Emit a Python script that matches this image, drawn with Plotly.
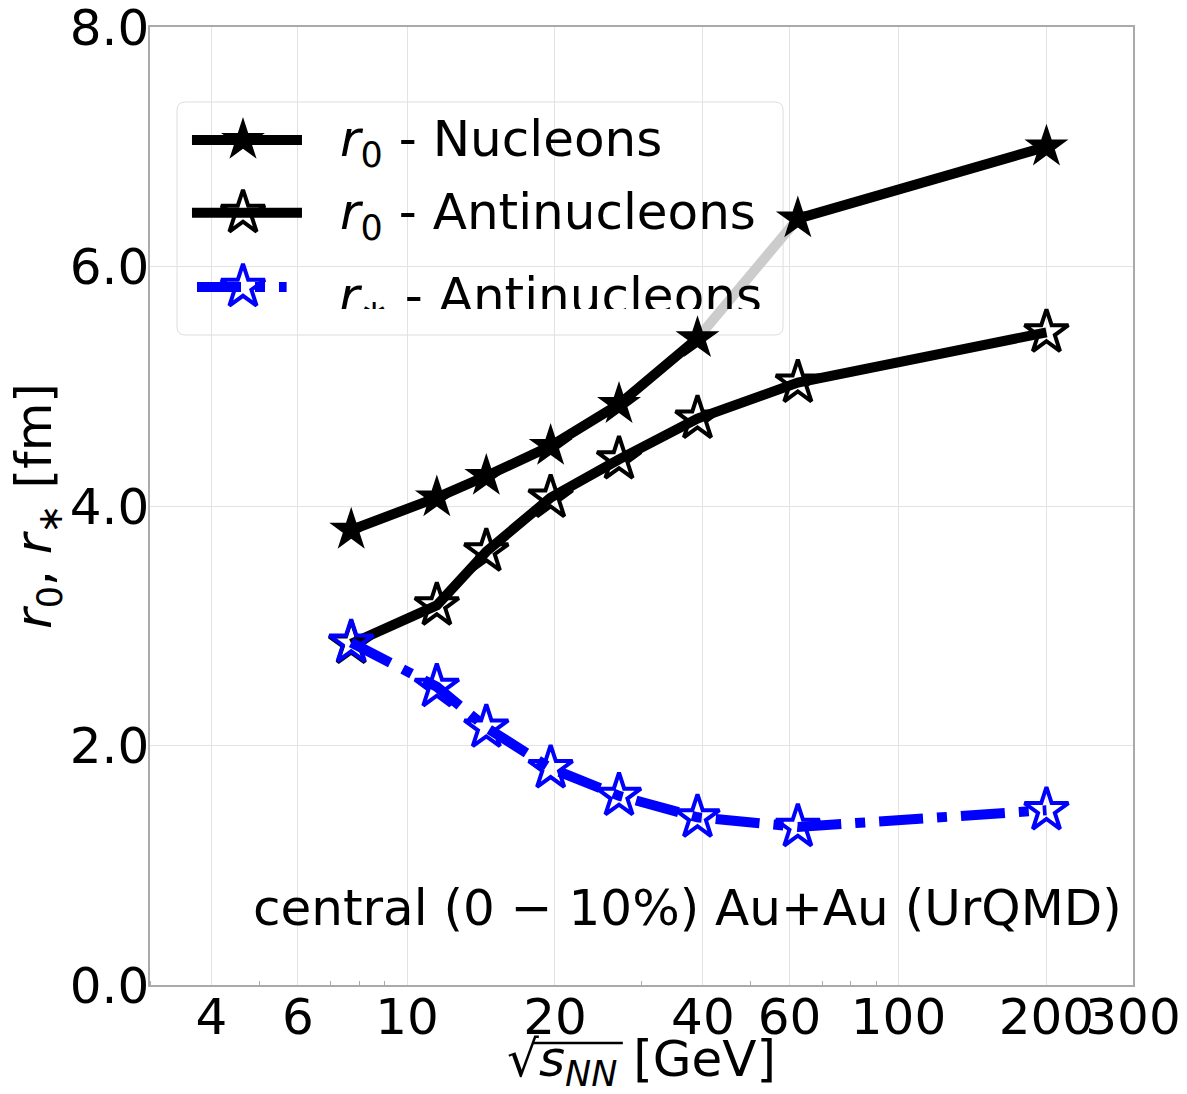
import plotly.graph_objects as go

# ---------------- data ----------------
energy = [7.7, 11.5, 14.5, 19.6, 27, 39, 62.4, 200]
r0_nucleons = [3.80, 4.07, 4.25, 4.50, 4.85, 5.40, 6.40, 7.00]
r0_antinucleons = [2.85, 3.17, 3.62, 4.07, 4.39, 4.73, 5.03, 5.45]
rstar_antinucleons = [2.86, 2.49, 2.15, 1.81, 1.58, 1.40, 1.32, 1.46]

x_tick_vals = [4, 6, 10, 20, 40, 60, 100, 200, 300]
x_tick_text = ["4", "6", "10", "20", "40", "60", "100", "200", "300"]
x_minor_vals = [3, 5, 7, 8, 9, 30, 50, 70, 80, 90]
y_tick_vals = [0, 2, 4, 6, 8]
y_tick_text = ["0.0", "2.0", "4.0", "6.0", "8.0"]

legend_names = ["<i>r</i><sub>0</sub> - Nucleons",
                "<i>r</i><sub>0</sub> - Antinucleons",
                "<i>r</i><sub>∗</sub> - Antinucleons"]
note_text = "central (0 − 10%) Au+Au (UrQMD)"

# ---------------- styles ----------------
FONT = "DejaVu Sans"
FS = 50
BLUE = "#0000ff"
DASHDOT = "44px,14px,10px,14px"
MS = 33
LW = 10
GRID = "#e3e3e3"
SPINE = "#aaaaaa"

fig = go.Figure()

# gray segment between the 39 and 62.4 GeV nucleon points
gap = 5
fig.add_trace(go.Scatter(
    x=energy[gap:gap + 2], y=r0_nucleons[gap:gap + 2], mode="lines",
    line=dict(color="#cccccc", width=LW), showlegend=False, hoverinfo="skip"))

# nucleons (black segment 39->62.4 replaced by the gray one)
fig.add_trace(go.Scatter(
    x=energy[:gap + 1] + [None] + energy[gap + 1:],
    y=r0_nucleons[:gap + 1] + [None] + r0_nucleons[gap + 1:],
    mode="lines+markers", connectgaps=False,
    line=dict(color="black", width=LW),
    marker=dict(symbol="star", size=MS, color="black", line=dict(width=0)),
    showlegend=False))

# antinucleons r0
fig.add_trace(go.Scatter(
    x=energy, y=r0_antinucleons, mode="lines+markers",
    line=dict(color="black", width=LW),
    marker=dict(symbol="star-open", size=MS, color="black", line=dict(width=4, color="black")),
    showlegend=False))

# antinucleons r*
fig.add_trace(go.Scatter(
    x=energy, y=rstar_antinucleons, mode="lines+markers",
    line=dict(color=BLUE, width=LW, dash=DASHDOT),
    marker=dict(symbol="star-open", size=MS, color=BLUE, line=dict(width=4, color=BLUE)),
    showlegend=False))

# ---------------- custom legend (paper-fraction overlay axes) ----------------
leg_rows = [0.882, 0.806, 0.7286]
leg_text_rows = [0.879, 0.8028, 0.7505]
leg_line_x = [[0.0427, 0.1546], [0.0427, 0.1546], [0.0478, 0.139]]
leg_star_x = 0.0946
leg_text_x = 0.1913
leg_styles = [
    dict(line=dict(color="black", width=LW),
         marker=dict(symbol="star", size=MS, color="black", line=dict(width=0))),
    dict(line=dict(color="black", width=LW),
         marker=dict(symbol="star-open", size=MS, color="black", line=dict(width=4, color="black"))),
    dict(line=dict(color=BLUE, width=LW, dash=DASHDOT),
         marker=dict(symbol="star-open", size=MS, color=BLUE, line=dict(width=4, color=BLUE))),
]
for yrow, lx, st in zip(leg_rows, leg_line_x, leg_styles):
    fig.add_trace(go.Scatter(x=lx, y=[yrow, yrow], mode="lines", line=st["line"],
                             xaxis="x2", yaxis="y2", showlegend=False, hoverinfo="skip"))
    fig.add_trace(go.Scatter(x=[leg_star_x], y=[yrow], mode="markers", marker=st["marker"],
                             xaxis="x2", yaxis="y2", showlegend=False, hoverinfo="skip"))

annotations = []
for i, (yrow, name) in enumerate(zip(leg_text_rows, legend_names)):
    if i < 2:
        annotations.append(dict(
            x=leg_text_x, y=yrow, xref="paper", yref="paper", xanchor="left", yanchor="middle",
            text=name, showarrow=False, font=dict(family=FONT, size=FS, color="black")))
    else:
        # last entry: fixed-height box so the bottom of the text is clipped
        annotations.append(dict(
            x=leg_text_x, y=yrow, xref="paper", yref="paper", xanchor="left", yanchor="top",
            text=name, showarrow=False, height=42, valign="top", borderpad=0,
            font=dict(family=FONT, size=FS, color="black")))
annotations.append(dict(
    x=0.991, y=0.080, xref="paper", yref="paper", xanchor="right", yanchor="middle",
    text=note_text, showarrow=False, font=dict(family=FONT, size=FS, color="black")))

# rounded legend frame
fx0, fx1, fy0, fy1 = 0.0275, 0.644, 0.6785, 0.9217
rx, ry = 0.0085, 0.0087
frame_path = (f"M {fx0 + rx},{fy0} L {fx1 - rx},{fy0} Q {fx1},{fy0} {fx1},{fy0 + ry} "
              f"L {fx1},{fy1 - ry} Q {fx1},{fy1} {fx1 - rx},{fy1} "
              f"L {fx0 + rx},{fy1} Q {fx0},{fy1} {fx0},{fy1 - ry} "
              f"L {fx0},{fy0 + ry} Q {fx0},{fy0} {fx0 + rx},{fy0} Z")
shapes = [
    dict(type="path", xref="paper", yref="paper", path=frame_path, layer="between",
         fillcolor="rgba(255,255,255,0.8)", line=dict(color="#dddddd", width=1)),
    # overline of the square root in the x-axis title
    dict(type="line", xref="paper", yref="paper", x0=0.3886, x1=0.481,
         y0=-0.0605, y1=-0.0605, line=dict(color="black", width=2.5)),
]

fig.update_layout(
    width=1187, height=1094,
    margin=dict(l=150, r=54, t=27, b=109),
    paper_bgcolor="white", plot_bgcolor="white",
    font=dict(family=FONT, size=FS, color="black"),
    xaxis=dict(
        type="log", range=[0.47712, 2.47712], automargin=False,
        tickmode="array", tickvals=x_tick_vals, ticktext=x_tick_text, tickangle=0,
        showgrid=True, gridcolor=GRID, gridwidth=1,
        showline=True, linecolor=SPINE, linewidth=1.5, mirror=True,
        ticks="", zeroline=False, ticklabelstandoff=-13, ticklabeloverflow="allow",
        tickfont=dict(family=FONT, size=FS, color="black"),
        minor=dict(tickvals=x_minor_vals, ticks="inside", ticklen=4, tickcolor=SPINE, showgrid=False),
        title=dict(text="√<i>s</i><sub><i>NN</i></sub> [GeV]", standoff=17,
                   font=dict(family=FONT, size=FS, color="black")),
    ),
    yaxis=dict(
        range=[0, 8], automargin=False,
        tickmode="array", tickvals=y_tick_vals, ticktext=y_tick_text,
        showgrid=True, gridcolor=GRID, gridwidth=1,
        showline=True, linecolor=SPINE, linewidth=1.5, mirror=True,
        ticks="", zeroline=False, ticklabelstandoff=-11, ticklabeloverflow="allow",
        tickfont=dict(family=FONT, size=FS, color="black"),
        title=dict(text="<i>r</i><sub>0</sub>, <i>r</i><sub>∗</sub> [fm]", standoff=2,
                   font=dict(family=FONT, size=FS, color="black")),
    ),
    xaxis2=dict(overlaying="x", range=[0, 1], visible=False, fixedrange=True),
    yaxis2=dict(overlaying="y", range=[0, 1], visible=False, fixedrange=True),
    annotations=annotations,
    shapes=shapes,
)

fig.write_html("out.html")
